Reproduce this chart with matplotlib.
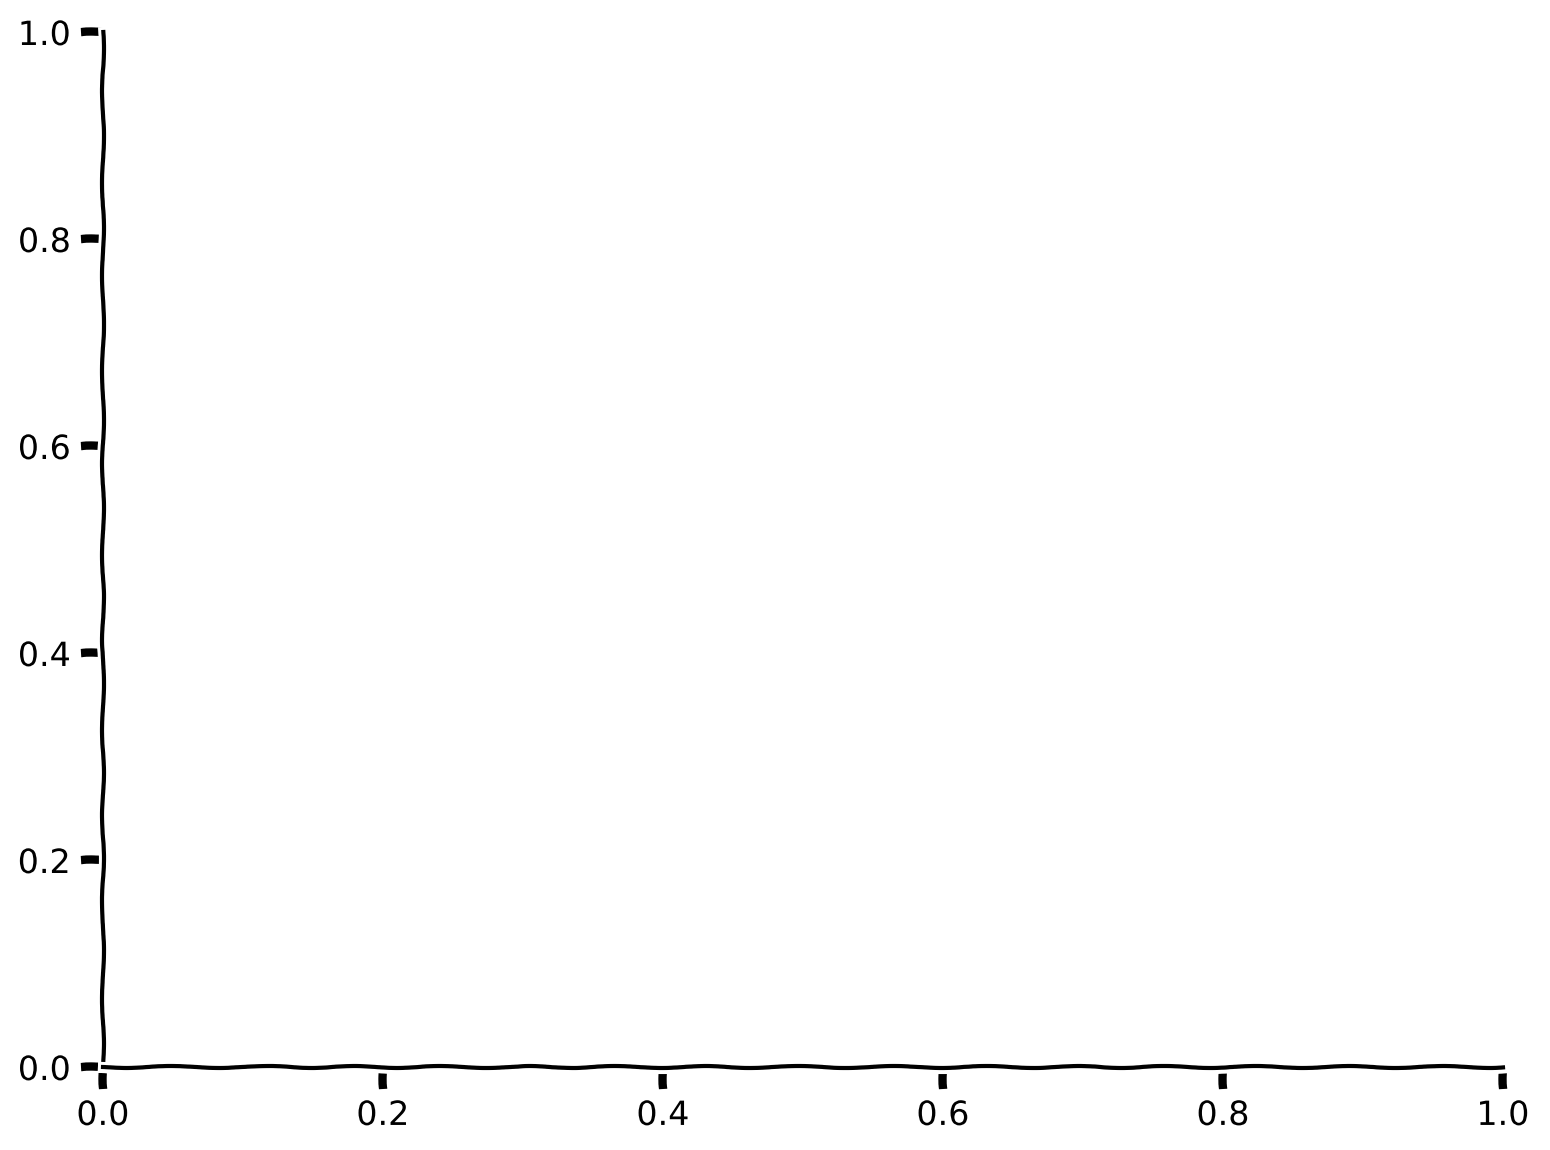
import matplotlib
matplotlib.use("Agg")
import matplotlib.pyplot as plt

# axis ranges (empty chart)
x_range = [0.0, 1.0]
y_range = [0.0, 1.0]

DPI = 200

with plt.xkcd():
    plt.rcParams["font.family"] = ["DejaVu Sans"]
    plt.rcParams["font.size"] = 12

    fig = plt.figure(figsize=(1550 / DPI, 1150 / DPI), dpi=DPI)
    ax = fig.add_axes([103 / 1550, 1 - 1067 / 1150, 1400 / 1550, 1035 / 1150])

    ax.set_xlim(x_range)
    ax.set_ylim(y_range)

    ax.spines["top"].set_visible(False)
    ax.spines["right"].set_visible(False)

    fig.savefig("out.png", dpi=DPI)
